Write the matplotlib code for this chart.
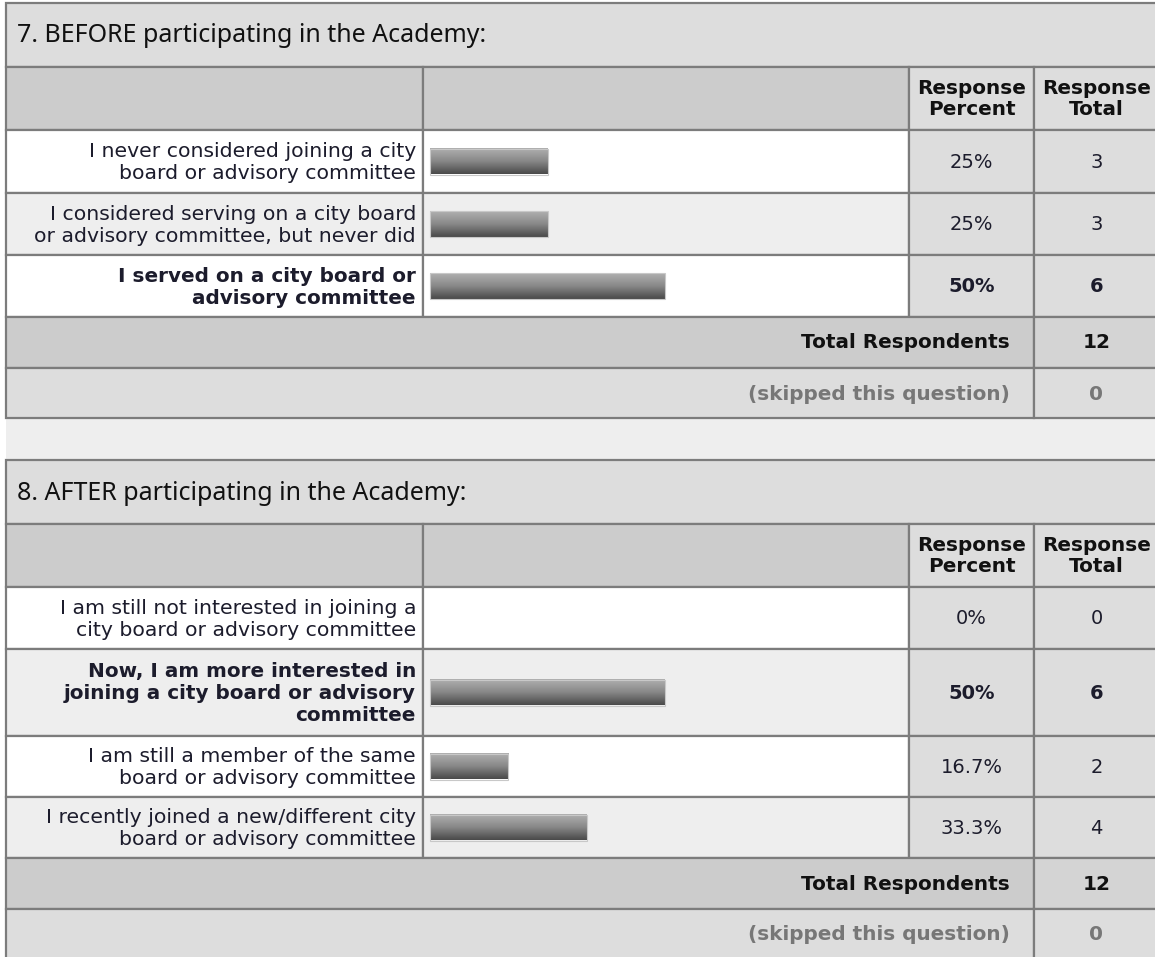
import numpy as np
import matplotlib
matplotlib.use('Agg')
import matplotlib.pyplot as plt
from matplotlib.patches import Rectangle

W, H = 1155, 957

# ---- survey data ----
q7_title = "7. BEFORE participating in the Academy:"
q7_labels = ["I never considered joining a city\nboard or advisory committee",
             "I considered serving on a city board\nor advisory committee, but never did",
             "I served on a city board or\nadvisory committee"]
q7_pct = [25, 25, 50]
q7_pct_text = ["25%", "25%", "50%"]
q7_counts = [3, 3, 6]
q7_bold = [False, False, True]
q7_total, q7_skipped = 12, 0

q8_title = "8. AFTER participating in the Academy:"
q8_labels = ["I am still not interested in joining a\ncity board or advisory committee",
             "Now, I am more interested in\njoining a city board or advisory\ncommittee",
             "I am still a member of the same\nboard or advisory committee",
             "I recently joined a new/different city\nboard or advisory committee"]
q8_pct = [0, 50, 16.7, 33.3]
q8_pct_text = ["0%", "50%", "16.7%", "33.3%"]
q8_counts = [0, 6, 2, 4]
q8_bold = [False, True, False, False]
q8_total, q8_skipped = 12, 0

# ---- layout (pixels) ----
X0, X_BAR, X_PCT, X_TOT, X1 = 6, 423, 909, 1034, 1175
BAR_X, BAR_FULL, BAR_H = 430, 470, 26
BORDER = '#7c7c7c'
TXT = '#1c1c2c'
FS = 14.4

fig = plt.figure(figsize=(W / 100, H / 100), dpi=100)
fig.patch.set_facecolor('white')
ax = fig.add_axes([0, 0, 1, 1])
ax.set_xlim(0, W)
ax.set_ylim(H, 0)
ax.axis('off')

grad = np.linspace(0, 1, 64).reshape(-1, 1)
bar_cmap = matplotlib.colors.LinearSegmentedColormap.from_list(
    'bar', ['#b0b0b0', '#888888', '#4a4a4a'])


def cell(x0, y0, x1, y1, fc):
    ax.add_patch(Rectangle((x0, y0), x1 - x0, y1 - y0, facecolor=fc,
                           edgecolor=BORDER, lw=1.6, zorder=1))


def draw_table(top, title, labels, pct, pct_text, counts, bold, row_h,
               total, skipped):
    xc_pct = (X_PCT + X_TOT) / 2
    xc_tot = (X_TOT + 1155) / 2 + 2
    # title band
    cell(X0, top, X1, top + 64, '#dddddd')
    ax.text(17, top + 33, title, fontsize=18.0, family='Noto Sans',
            color='#111111', va='center', ha='left', zorder=3)
    # header row
    y = top + 64
    cell(X0, y, X_BAR, y + 63, '#cccccc')
    cell(X_BAR, y, X_PCT, y + 63, '#cccccc')
    cell(X_PCT, y, X_TOT, y + 63, '#dddddd')
    cell(X_TOT, y, X1, y + 63, '#dddddd')
    for xc, s in [(xc_pct, "Response\nPercent"), (xc_tot, "Response\nTotal")]:
        ax.text(xc, y + 32, s, fontsize=FS, fontweight='bold', color='#111111',
                ha='center', va='center', linespacing=1.15, zorder=3)
    y += 63
    for i, (lab, p, pt, c, b, h) in enumerate(zip(labels, pct, pct_text,
                                                  counts, bold, row_h)):
        fc = 'white' if i % 2 == 0 else '#eeeeee'
        cell(X0, y, X_BAR, y + h, fc)
        cell(X_BAR, y, X_PCT, y + h, fc)
        cell(X_PCT, y, X_TOT, y + h, '#dddddd')
        cell(X_TOT, y, X1, y + h, '#dddddd')
        fw = 'bold' if b else 'normal'
        ax.text(416, y + h / 2 + 1, lab, fontsize=14.7 if not b else FS,
                fontweight=fw, color=TXT, ha='right', va='center',
                linespacing=1.2, zorder=3)
        if p > 0:
            w = p / 100 * BAR_FULL
            yc = y + h / 2
            ax.imshow(grad, cmap=bar_cmap, aspect='auto', zorder=2,
                      extent=(BAR_X, BAR_X + w, yc + BAR_H / 2, yc - BAR_H / 2))
            ax.add_patch(Rectangle((BAR_X, yc - BAR_H / 2), w, BAR_H,
                                   facecolor='none', edgecolor='#c8c8c8',
                                   lw=0.8, zorder=2.5))
        ax.text(xc_pct, y + h / 2 + 1, pt, fontsize=14, fontweight=fw,
                color=TXT, ha='center', va='center', zorder=3)
        ax.text(xc_tot, y + h / 2 + 1, str(c), fontsize=14, fontweight=fw,
                color=TXT, ha='center', va='center', zorder=3)
        y += h
    # summary rows
    cell(X0, y, X_TOT, y + 51, '#cccccc')
    cell(X_TOT, y, X1, y + 51, '#d4d4d4')
    ax.text(1010, y + 26, "Total Respondents", fontsize=FS, fontweight='bold',
            color='#111111', ha='right', va='center', zorder=3)
    ax.text(xc_tot, y + 26, str(total), fontsize=FS, fontweight='bold',
            color='#111111', ha='center', va='center', zorder=3)
    y += 51
    cell(X0, y, X_TOT, y + 50, '#dddddd')
    cell(X_TOT, y, X1, y + 50, '#dddddd')
    ax.text(1010, y + 26, "(skipped this question)", fontsize=FS,
            fontweight='bold', color='#777777', ha='right', va='center', zorder=3)
    ax.text(xc_tot, y + 26, str(skipped), fontsize=FS, fontweight='bold',
            color='#777777', ha='center', va='center', zorder=3)
    return y + 50


end7 = draw_table(3, q7_title, q7_labels, q7_pct, q7_pct_text, q7_counts,
                  q7_bold, [63, 62, 62], q7_total, q7_skipped)
# spacer between the two questions
ax.add_patch(Rectangle((X0, end7), X1 - X0, 460 - end7, facecolor='#eeeeee',
                       edgecolor='none', zorder=0.5))
draw_table(460, q8_title, q8_labels, q8_pct, q8_pct_text, q8_counts,
           q8_bold, [62, 87, 61, 61], q8_total, q8_skipped)

fig.savefig('out.png', dpi=100)
